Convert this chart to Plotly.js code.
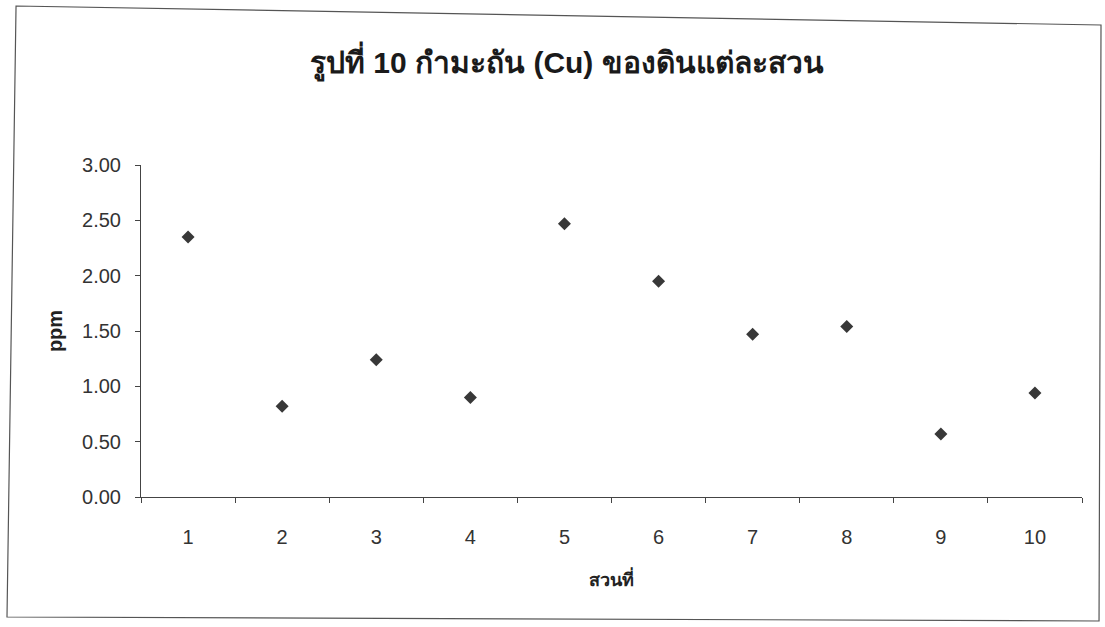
<!DOCTYPE html>
<html>
<head>
<meta charset="utf-8">
<script src="https://cdn.plot.ly/plotly-3.0.1.min.js"></script>
<style>
  html, body { margin: 0; padding: 0; background: #ffffff; }
  #chart { width: 1105px; height: 627px; }
</style>
</head>
<body>
<div id="chart"></div>
<script>
const categories = ["1", "2", "3", "4", "5", "6", "7", "8", "9", "10"];
const cuValues = [2.35, 0.82, 1.24, 0.90, 2.47, 1.95, 1.47, 1.54, 0.57, 0.94];
const yTickValues = [0, 0.5, 1, 1.5, 2, 2.5, 3];
const yTickLabels = ["0.00", "0.50", "1.00", "1.50", "2.00", "2.50", "3.00"];
const chartTitle = "รูปที่ 10 กำมะถัน (Cu) ของดินแต่ละสวน";
const xTitle = "สวนที่";
const yTitle = "ppm";

const fontFamily = "Liberation Sans, Arial, Noto Sans, sans-serif";

const W = 1105, H = 627;
const M = { l: 141, r: 23, t: 165, b: 130 };
const PW = W - M.l - M.r, PH = H - M.t - M.b;
// frame corners in pixels -> paper coordinates
function px(x) { return ((x - M.l) / PW).toFixed(4); }
function py(y) { return ((H - M.b - y) / PH).toFixed(4); }
const framePath = "M " + px(16) + "," + py(6) + " L " + px(1101) + "," + py(25) +
  " L " + px(1099) + "," + py(621) + " L " + px(7) + "," + py(617) + " Z";

const trace = {
  type: "scatter",
  mode: "markers",
  x: categories,
  y: cuValues,
  marker: { symbol: "diamond", size: 10, color: "#383838", line: { width: 0 } },
  showlegend: false,
  hoverinfo: "x+y"
};

const layout = {
  width: W,
  height: H,
  paper_bgcolor: "#ffffff",
  plot_bgcolor: "#ffffff",
  margin: M,
  title: {
    text: "<b>" + chartTitle + "</b>",
    x: 0.513, xanchor: "center",
    y: 0.90, yanchor: "middle",
    font: { family: fontFamily, size: 30, color: "#1a1a1a" }
  },
  xaxis: {
    type: "category",
    range: [-0.5, 9.5],
    tickson: "boundaries",
    ticks: "outside",
    ticklen: 5,
    tickcolor: "#444",
    showline: true,
    linecolor: "#444",
    linewidth: 1,
    showgrid: false,
    zeroline: false,
    ticklabelstandoff: 22,
    tickfont: { family: fontFamily, size: 20, color: "#333" },
    title: {
      text: "<b>" + xTitle + "</b>",
      standoff: 26,
      font: { family: fontFamily, size: 18, color: "#222" }
    }
  },
  yaxis: {
    range: [0, 3],
    tickvals: yTickValues,
    ticktext: yTickLabels,
    ticks: "outside",
    ticklen: 5,
    tickcolor: "#444",
    showline: true,
    linecolor: "#444",
    linewidth: 1,
    showgrid: false,
    zeroline: false,
    ticklabelstandoff: 10,
    tickfont: { family: fontFamily, size: 20, color: "#333" },
    title: {
      text: "<b>" + yTitle + "</b>",
      standoff: 14,
      font: { family: fontFamily, size: 20, color: "#222" }
    }
  },
  shapes: [
    {
      type: "path", xref: "paper", yref: "paper",
      path: framePath,
      line: { color: "#555", width: 1.2 }, fillcolor: "rgba(0,0,0,0)"
    }
  ]
};

Plotly.newPlot("chart", [trace], layout, { displayModeBar: false, staticPlot: true });
</script>
</body>
</html>
